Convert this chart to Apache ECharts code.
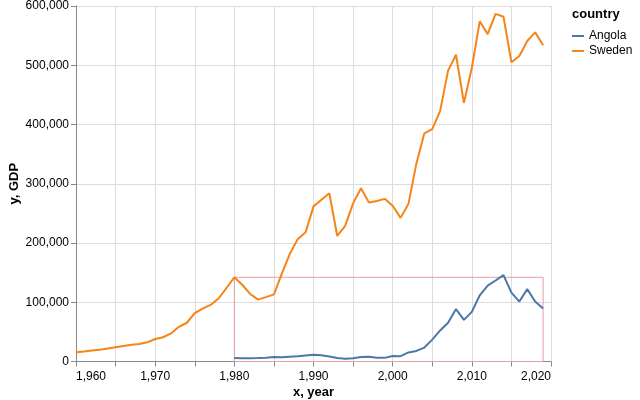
<!DOCTYPE html>
<html>
<head>
<meta charset="utf-8">
<script src="https://cdn.jsdelivr.net/npm/echarts@6/dist/echarts.min.js"></script>
<style>html,body{margin:0;padding:0;background:#fff}#c{width:640px;height:400px}</style>
</head>
<body>
<div id="c"></div>
<script>
var swedenYears = [1960,1961,1962,1963,1964,1965,1966,1967,1968,1969,1970,1971,1972,1973,1974,1975,1976,1977,1978,1979,1980,1981,1982,1983,1984,1985,1986,1987,1988,1989,1990,1991,1992,1993,1994,1995,1996,1997,1998,1999,2000,2001,2002,2003,2004,2005,2006,2007,2008,2009,2010,2011,2012,2013,2014,2015,2016,2017,2018,2019];
var swedenGDP = [15800,17000,18400,19800,21900,24000,26100,28100,29700,32400,37900,40900,47400,58500,65400,81700,89300,95500,106300,124000,142100,129500,114000,104400,108600,113200,148400,181300,206500,218000,261800,273100,284000,211900,228800,266900,292400,268400,270900,274500,262800,242400,266400,334300,385100,392100,423000,491000,517700,436500,495800,574100,552500,586800,581900,505100,515700,541000,555500,533900];
var angolaYears = [1980,1981,1982,1983,1984,1985,1986,1987,1988,1989,1990,1991,1992,1993,1994,1995,1996,1997,1998,1999,2000,2001,2002,2003,2004,2005,2006,2007,2008,2009,2010,2011,2012,2013,2014,2015,2016,2017,2018,2019];
var angolaGDP = [5930,5550,5550,5780,6130,7550,7070,8080,8770,10200,11200,10600,8310,5770,4440,5540,7530,7990,6510,6150,9130,8940,15290,17810,23550,36970,52380,65270,88540,70310,83800,111790,128050,136710,145710,116190,101120,122120,101350,89420];
var rectX = [1980, 2019];
var rectY = [0, 142100];

function pairs(xs, ys){ return xs.map(function(x,i){ return [x, ys[i]]; }); }
function fmt(v){ return Math.round(v).toString().replace(/\B(?=(\d{3})+(?!\d))/g, ','); }

var FONT = 'Liberation Sans, Arial, sans-serif';
var chart = echarts.init(document.getElementById('c'), null, {renderer:'canvas'});
chart.setOption({
  animation: false,
  backgroundColor: '#fff',
  grid: {left: 76, right: 89, top: 6, bottom: 38.5, containLabel: false, outerBoundsMode: 'none'},
  title: {text: 'country', left: 567, top: 3, textStyle: {fontFamily: FONT, fontSize: 13, fontWeight: 'bold', color: '#000'}},
  legend: {
    orient: 'vertical', left: 567, top: 25, itemGap: 3, itemWidth: 12, itemHeight: 2,
    icon: 'rect',
    textStyle: {fontFamily: FONT, fontSize: 12, color: '#000', padding: [0,0,0,0]},
    data: ['Angola', 'Sweden']
  },
  xAxis: {
    type: 'value', min: 1960, max: 2020, interval: 5,
    name: 'x, year', nameLocation: 'middle', nameGap: 24, nameMoveOverlap: false,
    nameTextStyle: {fontFamily: FONT, fontSize: 13, fontWeight: 'bold', color: '#000'},
    axisLine: {show: true, onZero: false, lineStyle: {color: '#888', width: 1}},
    axisTick: {show: true, length: 5, lineStyle: {color: '#888'}},
    splitLine: {show: true, lineStyle: {color: '#ddd', width: 1}},
    axisLabel: {
      fontFamily: FONT, fontSize: 12, color: '#000', margin: 9,
      alignMinLabel: 'left', alignMaxLabel: 'right',
      formatter: function(v){ return v % 10 === 0 ? fmt(v) : ''; }
    }
  },
  yAxis: {
    type: 'value', min: 0, max: 600000, interval: 100000,
    name: 'y, GDP', nameLocation: 'middle', nameGap: 55, nameRotate: 90, nameMoveOverlap: false,
    nameTextStyle: {fontFamily: FONT, fontSize: 13, fontWeight: 'bold', color: '#000'},
    axisLine: {show: true, lineStyle: {color: '#888', width: 1}},
    axisTick: {show: true, length: 5, lineStyle: {color: '#888'}},
    splitLine: {show: true, lineStyle: {color: '#ddd', width: 1}},
    axisLabel: {fontFamily: FONT, fontSize: 12, color: '#000', margin: 7, formatter: function(v){ return fmt(v); }}
  },
  series: [
    {
      name: 'rect', type: 'line', data: [], silent: true, z: 1,
      markArea: {
        silent: true,
        itemStyle: {color: 'rgba(0,0,0,0)', borderColor: '#e3a0a8', borderWidth: 1},
        data: [[{coord: [rectX[0], rectY[0]]}, {coord: [rectX[1], rectY[1]]}]]
      }
    },
    {
      name: 'Angola', type: 'line', data: pairs(angolaYears, angolaGDP), showSymbol: false, z: 3,
      lineStyle: {color: '#4c78a8', width: 2}, itemStyle: {color: '#4c78a8'}
    },
    {
      name: 'Sweden', type: 'line', data: pairs(swedenYears, swedenGDP), showSymbol: false, z: 3,
      lineStyle: {color: '#f58518', width: 2}, itemStyle: {color: '#f58518'}
    }
  ]
});
</script>
</body>
</html>
